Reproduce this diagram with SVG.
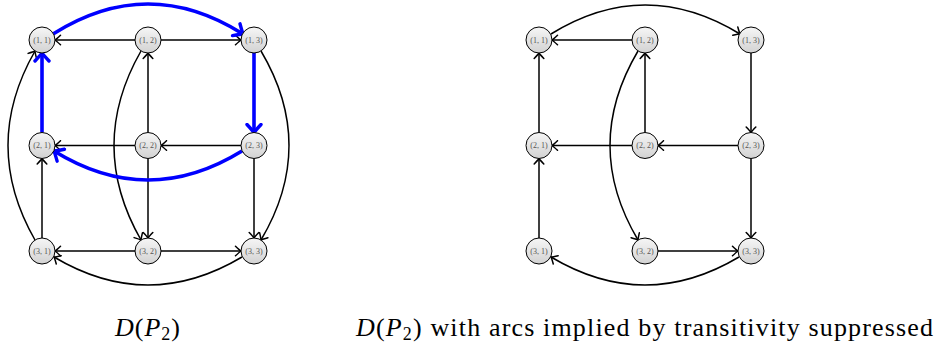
<svg xmlns="http://www.w3.org/2000/svg" width="939" height="347" viewBox="0 0 939 347">
<style>
.e{fill:none;stroke:#000;stroke-width:1.5;marker-end:url(#ah)}
.b{fill:none;stroke:#0000ff;stroke-width:3.6;marker-end:url(#bh)}
.n circle{fill:url(#g);stroke:#000;stroke-width:1}
.n text{font-family:"Liberation Serif","DejaVu Serif",serif;font-size:8px;fill:#555;text-anchor:middle}
.cap{font-family:"Liberation Serif","DejaVu Serif",serif;font-size:26px;fill:#000}
</style>
<defs>
<linearGradient id="g" x1="0" y1="0" x2="0" y2="1">
<stop offset="0" stop-color="#f6f6f6"/>
<stop offset="1" stop-color="#d2d2d2"/>
</linearGradient>
<marker id="ah" viewBox="-7 -6 8 12" refX="0" refY="0" markerWidth="8" markerHeight="12" orient="auto" markerUnits="userSpaceOnUse">
<path d="M-5.5,-4.8 Q-1.5,-1 0,0 Q-1.5,1 -5.5,4.8" fill="none" stroke="#000" stroke-width="1.5" stroke-linecap="round"/>
</marker>
<marker id="bh" viewBox="-10 -9 12 18" refX="0" refY="0" markerWidth="12" markerHeight="18" orient="auto" markerUnits="userSpaceOnUse">
<path d="M-8,-7 Q-2,-1.5 0,0 Q-2,1.5 -8,7" fill="none" stroke="#0000ff" stroke-width="3.4" stroke-linecap="round"/>
</marker>
</defs>

<g id="connectors">
<!-- left graph -->
<path class="e" d="M135,40 L55,40"/>
<path class="e" d="M161,40 L241,40"/>
<path class="e" d="M148,132.5 L148,53"/>
<path class="e" d="M241,145.5 L161,145.5"/>
<path class="e" d="M135,145.5 L55,145.5"/>
<path class="e" d="M148,158.5 L148,238"/>
<path class="e" d="M254,158.5 L254,238"/>
<path class="e" d="M42,238 L42,158.5"/>
<path class="e" d="M135,251 L55,251"/>
<path class="e" d="M161,251 L241,251"/>
<path class="e" d="M242,257 Q148,313 54,257"/>
<path class="e" d="M35,240 Q-19,145.5 35,51"/>
<path class="e" d="M261,51 Q317,145.5 261,240"/>
<path class="e" d="M141,51 Q87,145.5 141,240"/>
<path class="b" d="M53,34 Q148,-26 243,34"/>
<path class="b" d="M254,53 L254,132.5"/>
<path class="b" d="M42,132.5 L42,53"/>
<path class="b" d="M242,151 Q148,209 54,151"/>
<!-- right graph -->
<path class="e" d="M551,34 Q645,-24 740,34"/>
<path class="e" d="M632,40 L552,40"/>
<path class="e" d="M645,132.5 L645,53"/>
<path class="e" d="M539,132.5 L539,53"/>
<path class="e" d="M751,53 L751,132.5"/>
<path class="e" d="M738,145.5 L658,145.5"/>
<path class="e" d="M632,145.5 L552,145.5"/>
<path class="e" d="M539,238 L539,158.5"/>
<path class="e" d="M638,51 Q582,145.5 638,240"/>
<path class="e" d="M751,158.5 L751,238"/>
<path class="e" d="M658,251 L738,251"/>
<path class="e" d="M739,257 Q645,313 551,257"/>
</g>

<g id="L11" class="n"><circle cx="42" cy="40" r="13"/><text x="42" y="42.8">(1, 1)</text></g>
<g id="L12" class="n"><circle cx="148" cy="40" r="13"/><text x="148" y="42.8">(1, 2)</text></g>
<g id="L13" class="n"><circle cx="254" cy="40" r="13"/><text x="254" y="42.8">(1, 3)</text></g>
<g id="L21" class="n"><circle cx="42" cy="145.5" r="13"/><text x="42" y="148.3">(2, 1)</text></g>
<g id="L22" class="n"><circle cx="148" cy="145.5" r="13"/><text x="148" y="148.3">(2, 2)</text></g>
<g id="L23" class="n"><circle cx="254" cy="145.5" r="13"/><text x="254" y="148.3">(2, 3)</text></g>
<g id="L31" class="n"><circle cx="42" cy="251" r="13"/><text x="42" y="253.8">(3, 1)</text></g>
<g id="L32" class="n"><circle cx="148" cy="251" r="13"/><text x="148" y="253.8">(3, 2)</text></g>
<g id="L33" class="n"><circle cx="254" cy="251" r="13"/><text x="254" y="253.8">(3, 3)</text></g>

<g id="R11" class="n"><circle cx="539" cy="40" r="13"/><text x="539" y="42.8">(1, 1)</text></g>
<g id="R12" class="n"><circle cx="645" cy="40" r="13"/><text x="645" y="42.8">(1, 2)</text></g>
<g id="R13" class="n"><circle cx="751" cy="40" r="13"/><text x="751" y="42.8">(1, 3)</text></g>
<g id="R21" class="n"><circle cx="539" cy="145.5" r="13"/><text x="539" y="148.3">(2, 1)</text></g>
<g id="R22" class="n"><circle cx="645" cy="145.5" r="13"/><text x="645" y="148.3">(2, 2)</text></g>
<g id="R23" class="n"><circle cx="751" cy="145.5" r="13"/><text x="751" y="148.3">(2, 3)</text></g>
<g id="R31" class="n"><circle cx="539" cy="251" r="13"/><text x="539" y="253.8">(3, 1)</text></g>
<g id="R32" class="n"><circle cx="645" cy="251" r="13"/><text x="645" y="253.8">(3, 2)</text></g>
<g id="R33" class="n"><circle cx="751" cy="251" r="13"/><text x="751" y="253.8">(3, 3)</text></g>

<text class="cap" x="115" y="336" textLength="65" lengthAdjust="spacing"><tspan font-style="italic">D</tspan>(<tspan font-style="italic">P</tspan><tspan font-size="18" dy="4">2</tspan><tspan dy="-4">)</tspan></text>
<text class="cap" x="356" y="336" textLength="577" lengthAdjust="spacing"><tspan font-style="italic">D</tspan>(<tspan font-style="italic">P</tspan><tspan font-size="18" dy="4">2</tspan><tspan dy="-4">) with arcs implied by transitivity suppressed</tspan></text>
</svg>
